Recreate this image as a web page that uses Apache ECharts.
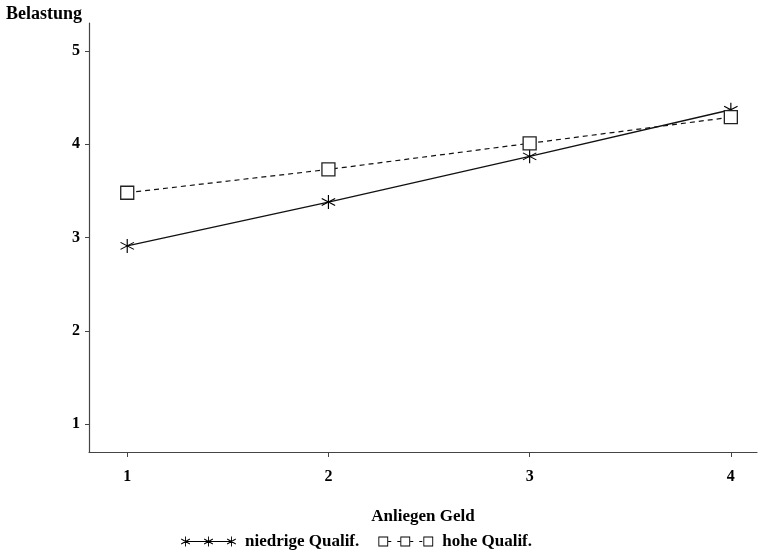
<!DOCTYPE html>
<html><head><meta charset="utf-8">
<script src="https://cdn.jsdelivr.net/npm/echarts@6/dist/echarts.min.js"></script>
<style>html,body{margin:0;padding:0;background:#fff}#c{width:760px;height:557px}</style>
</head><body><div id="c"></div>
<script>
const categories = [1, 2, 3, 4];
const niedrig = [2.91, 3.38, 3.87, 4.37];
const hoch = [3.48, 3.73, 4.01, 4.29];
const xTicks = [1, 2, 3, 4];
const yTicks = [1, 2, 3, 4, 5];
const seriesNames = ['niedrige Qualif.', 'hohe Qualif.'];

function bar(x1, y1, x2, y2, w) {
  const dx = x2 - x1, dy = y2 - y1, L = Math.hypot(dx, dy);
  const nx = -dy / L * w / 2, ny = dx / L * w / 2;
  const p = [[x1 + nx, y1 + ny], [x2 + nx, y2 + ny], [x2 - nx, y2 - ny], [x1 - nx, y1 - ny]];
  let a = 0; for (let i = 0; i < 4; i++) { const q = p[i], r = p[(i + 1) % 4]; a += q[0] * r[1] - r[0] * q[1]; }
  if (a < 0) p.reverse();
  return 'M' + p.map(q => q[0].toFixed(2) + ' ' + q[1].toFixed(2)).join(' L') + ' Z ';
}
function star(cx, cy, r, w) {
  let s = bar(cx, cy - r, cx, cy + r, w);
  const c = Math.cos(Math.PI / 6) * r, d = Math.sin(Math.PI / 6) * r;
  s += bar(cx - c, cy - d, cx + c, cy + d, w);
  s += bar(cx - c, cy + d, cx + c, cy - d, w);
  return s;
}
function square(cx, cy, h, w) {
  const o = [[cx - h, cy - h], [cx + h, cy - h], [cx + h, cy + h], [cx - h, cy + h]];
  const i = [[cx - h + w, cy - h + w], [cx - h + w, cy + h - w], [cx + h - w, cy + h - w], [cx + h - w, cy - h + w]];
  return 'M' + o.map(q => q.join(' ')).join(' L') + ' Z M' + i.map(q => q.join(' ')).join(' L') + ' Z ';
}
const starSym = 'path://' + star(10, 10, 10, 1.5);
const legendStar = 'path://' + bar(4, 5, 50, 5, 1) + star(4, 5, 5, 0.9) + star(27, 5, 5, 0.9) + star(50, 5, 5, 0.9);
const legendSq = 'path://' + square(5, 5, 4.9, 0.9) + bar(10, 5, 13, 5, 0.9) + square(27, 5, 4.9, 0.9) + bar(19, 5, 22, 5, 0.9) + bar(32, 5, 35, 5, 0.9) + bar(41, 5, 44, 5, 0.9) + square(50, 5, 4.9, 0.9) + 'M0 0 L0.01 0 L0 0.01 Z M55 10 L54.99 10 L55 9.99 Z';

const font = '"Liberation Serif", "DejaVu Serif", serif';
const chart = echarts.init(document.getElementById('c'), null, { renderer: 'canvas' });
chart.setOption({
  animation: false,
  backgroundColor: '#fff',
  textStyle: { fontFamily: font },
  grid: { left: 89, right: 3, top: 23, bottom: 105, containLabel: false },
  xAxis: {
    type: 'value', min: 0.81, max: 4.13,
    name: 'Anliegen Geld', nameLocation: 'middle', nameGap: 56,
    nameTextStyle: { fontFamily: font, fontWeight: 'bold', fontSize: 17, color: '#000' },
    axisLine: { lineStyle: { color: '#444', width: 1.2 } },
    axisTick: { show: true, length: 5, customValues: xTicks, lineStyle: { color: '#444' } },
    axisLabel: { customValues: xTicks, margin: 17, fontFamily: font, fontWeight: 'bold', fontSize: 16, color: '#000' },
    splitLine: { show: false }
  },
  yAxis: {
    type: 'value', min: 0.7, max: 5.3,
    name: 'Belastung', nameLocation: 'end', nameGap: 0,
    nameTextStyle: { fontFamily: font, fontWeight: 'bold', fontSize: 18, color: '#000', align: 'right', padding: [0, 7, 0, 0] },
    axisLine: { show: true, lineStyle: { color: '#444', width: 1.2 } },
    axisTick: { show: true, length: 4, customValues: yTicks, lineStyle: { color: '#444' } },
    axisLabel: { customValues: yTicks, margin: 9, fontFamily: font, fontWeight: 'bold', fontSize: 16, color: '#000' },
    splitLine: { show: false }
  },
  legend: {
    bottom: 2, left: 176, itemGap: 19, itemWidth: 55, itemHeight: 10,
    textStyle: { fontFamily: font, fontWeight: 'bold', fontSize: 17, color: '#000', padding: [0, 0, 0, 4] },
    data: [
      { name: seriesNames[0], icon: legendStar, itemStyle: { color: '#000', borderWidth: 0 } },
      { name: seriesNames[1], icon: legendSq, itemStyle: { color: '#000', borderWidth: 0 } }
    ]
  },
  series: [
    {
      name: seriesNames[0], type: 'line',
      data: categories.map((c, i) => [c, niedrig[i]]),
      symbol: starSym, symbolSize: 14,
      itemStyle: { color: '#000' },
      lineStyle: { color: '#111', width: 1.4 }
    },
    {
      name: seriesNames[1], type: 'line',
      data: categories.map((c, i) => [c, hoch[i]]),
      symbol: 'rect', symbolSize: 13,
      itemStyle: { color: '#fff', borderColor: '#222', borderWidth: 1.3 },
      lineStyle: { color: '#111', width: 1.2, type: [5, 4] }
    }
  ]
});
</script></body></html>
